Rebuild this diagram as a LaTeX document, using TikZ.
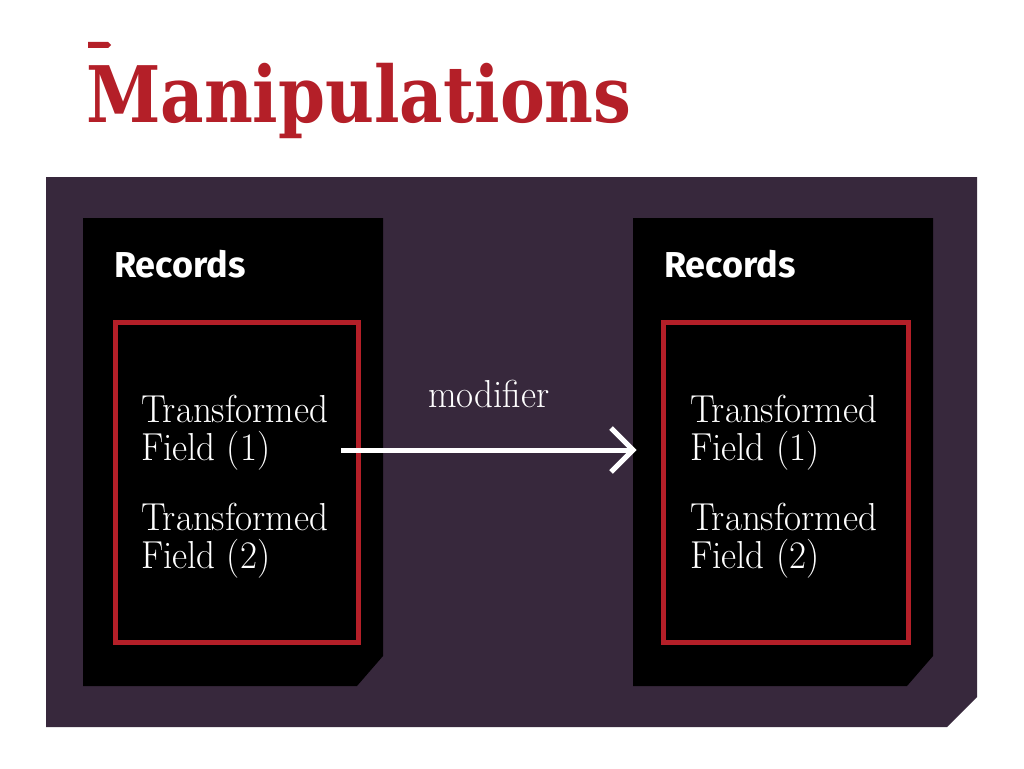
\documentclass[tikz,border=0pt]{standalone}
\usepackage{fontspec}
\usepackage{graphicx}
\newfontfamily\titlefont{DejaVu Serif}
\newfontfamily\headfont{Fira Sans}
\definecolor{panelc}{RGB}{55,40,60}
\definecolor{redc}{RGB}{180,31,40}
\newcommand\lighttxt[1]{{\fontsize{39}{39}\selectfont\scalebox{0.95}[1]{#1}}}
\begin{document}
\begin{tikzpicture}[x=1pt,y=-1pt,
  every node/.style={inner sep=0pt,outer sep=0pt},
  headtxt/.style={anchor=base west,text=white,font=\headfont\bfseries\fontsize{36}{36}\selectfont},
  bodytxt/.style={anchor=base west,text=white},
  redbox/.style={draw=redc,line width=5.5pt,rectangle},
  arr/.style={draw=white,line width=5pt}
]
\useasboundingbox[fill=white] (0,0) rectangle (1024,768);
% title
\node[anchor=base west,text=redc,font=\titlefont\bfseries\fontsize{78}{78}\selectfont] (title) at (86,122) {\scalebox{0.862}[1]{Manipulations}};
\fill[redc] (88,42) -- (108,42) -- (111,45) -- (108,48) -- (88,48) -- cycle;
% panel
\node[minimum width=931pt,minimum height=550pt] (panel) at (511.5,452) {};
\fill[panelc] (panel.north west) -- (panel.north east) -- ([yshift=30pt]panel.south east) -- ([xshift=-30pt]panel.south east) -- (panel.south west) -- cycle;
% boxes
\node[minimum width=300pt,minimum height=468pt] (lbox) at (233,452) {};
\node[minimum width=300pt,minimum height=468pt] (rbox) at (783,452) {};
\foreach \b in {lbox,rbox}{
  \fill[black] (\b.north west) -- (\b.north east) -- ([yshift=30pt]\b.south east) -- ([xshift=-26pt]\b.south east) -- (\b.south west) -- cycle;
}
\node[redbox,minimum width=243pt,minimum height=320pt] (lred) at (237,482.5) {};
\node[redbox,minimum width=245pt,minimum height=320pt] (rred) at (786,482.5) {};
% texts
\node[headtxt] (lhead) at (114,277) {Records};
\node[headtxt] (rhead) at (664,277) {Records};
\node[bodytxt] (l1a) at (141,422) {\lighttxt{Transformed}};
\node[bodytxt] (l1b) at (141,460) {\lighttxt{Field (1)}};
\node[bodytxt] (l2a) at (141,530) {\lighttxt{Transformed}};
\node[bodytxt] (l2b) at (141,568) {\lighttxt{Field (2)}};
\node[bodytxt] (r1a) at (690,422) {\lighttxt{Transformed}};
\node[bodytxt] (r1b) at (690,460) {\lighttxt{Field (1)}};
\node[bodytxt] (r2a) at (690,530) {\lighttxt{Transformed}};
\node[bodytxt] (r2b) at (690,568) {\lighttxt{Field (2)}};
\node[bodytxt] (mod) at (428,407) {\lighttxt{modifier}};
% arrow
\coordinate (astart) at ([xshift=-42pt,yshift=2pt]lbox.east);
\coordinate (aend) at ([yshift=2pt]rbox.west);
\draw[arr] (astart) -- ([xshift=-1pt]aend);
\draw[arr,line join=miter] ([xshift=-22pt,yshift=22pt]aend) -- (aend) -- ([xshift=-22pt,yshift=-22pt]aend);
\end{tikzpicture}
\end{document}
